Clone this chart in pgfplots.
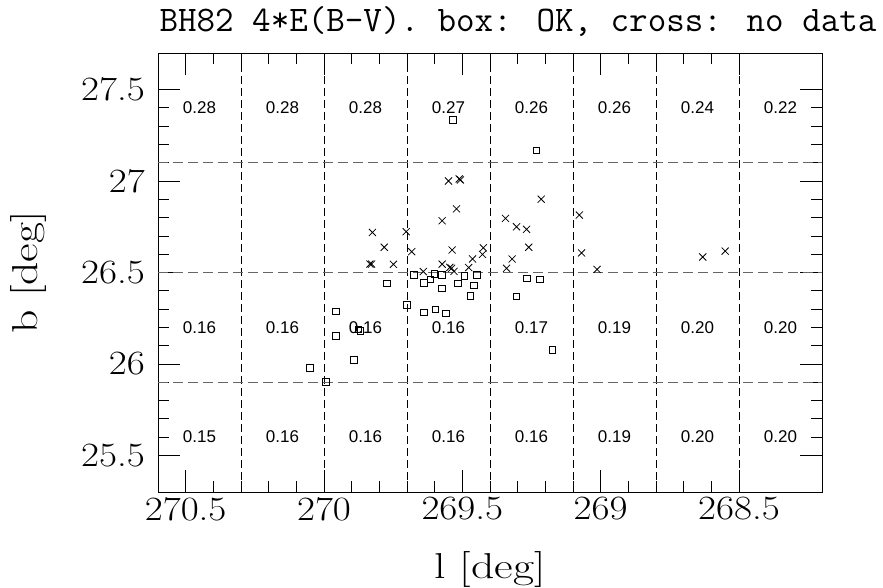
\documentclass[border=0pt]{standalone}
\usepackage{fontspec}
\usepackage{pgfplots}
\pgfplotsset{compat=1.18}
\newfontfamily\boxfont{Liberation Sans}
\newcommand{\hs}[1]{\scalebox{1.15}[1]{#1}}
\newcommand{\hl}[1]{\scalebox{1.27}[1]{#1}}

\begin{document}
\begin{tikzpicture}
\begin{axis}[
  scale only axis, width=664pt, height=439pt,
  xmin=268.2, xmax=270.6, ymin=25.3, ymax=27.7,
  x dir=reverse,
  xtick={268.5,269,269.5,270,270.5},
  xticklabels={\hs{268.5},\hs{269},\hs{269.5},\hs{270},\hs{270.5}},
  ytick={25.5,26,26.5,27,27.5},
  yticklabels={\hs{25.5},\hs{26},\hs{26.5},\hs{27},\hs{27.5}},
  minor x tick num=4, minor y tick num=4,
  tick align=inside,
  xtick pos=both, ytick pos=both,
  major tick length=22pt, minor tick length=11pt,
  every tick/.style={black, line width=0.8pt},
  axis line style={black, line width=0.9pt},
  tick label style={font=\fontsize{34}{40}\selectfont, inner sep=0pt},
  xticklabel style={anchor=north, yshift=-5pt},
  yticklabel style={anchor=east, xshift=-13pt},
  clip=false,
]
% grid of boxes
\addplot[black, line width=0.7pt, dash pattern=on 8pt off 4pt] coordinates {(270.3,25.3) (270.3,27.7)};
\addplot[black, line width=0.7pt, dash pattern=on 8pt off 4pt] coordinates {(270.0,25.3) (270.0,27.7)};
\addplot[black, line width=0.7pt, dash pattern=on 8pt off 4pt] coordinates {(269.7,25.3) (269.7,27.7)};
\addplot[black, line width=0.7pt, dash pattern=on 8pt off 4pt] coordinates {(269.4,25.3) (269.4,27.7)};
\addplot[black, line width=0.7pt, dash pattern=on 8pt off 4pt] coordinates {(269.1,25.3) (269.1,27.7)};
\addplot[black, line width=0.7pt, dash pattern=on 8pt off 4pt] coordinates {(268.8,25.3) (268.8,27.7)};
\addplot[black, line width=0.7pt, dash pattern=on 8pt off 4pt] coordinates {(268.5,25.3) (268.5,27.7)};
\addplot[gray!80!black, line width=1.2pt, dash pattern=on 10pt off 5pt] coordinates {(270.6,27.1) (268.2,27.1)};
\addplot[gray!80!black, line width=1.2pt, dash pattern=on 10pt off 5pt] coordinates {(270.6,26.5) (268.2,26.5)};
\addplot[gray!80!black, line width=1.2pt, dash pattern=on 10pt off 5pt] coordinates {(270.6,25.9) (268.2,25.9)};

% box values
\addplot[only marks, mark=none, nodes near coords, point meta=explicit symbolic,
  every node near coord/.append style={anchor=center, inner sep=0pt,
  font=\boxfont\fontsize{17}{19}\selectfont}]
  table[x=x, y=y, meta=lab] {
x y lab
270.45 27.4 0.28
270.15 27.4 0.28
269.85 27.4 0.28
269.55 27.4 0.27
269.25 27.4 0.26
268.95 27.4 0.26
268.65 27.4 0.24
268.35 27.4 0.22
270.45 26.2 0.16
270.15 26.2 0.16
269.85 26.2 0.16
269.55 26.2 0.16
269.25 26.2 0.17
268.95 26.2 0.19
268.65 26.2 0.20
268.35 26.2 0.20
270.45 25.6 0.15
270.15 25.6 0.16
269.85 25.6 0.16
269.55 25.6 0.16
269.25 25.6 0.16
268.95 25.6 0.19
268.65 25.6 0.20
268.35 25.6 0.20
};

% crosses: no data
\addplot[only marks, mark=x, mark size=5pt, mark options={line width=0.8pt, black}] table {
269.825 26.719
269.782 26.638
269.834 26.546
269.828 26.546
269.749 26.545
269.703 26.723
269.683 26.614
269.573 26.783
269.550 27.000
269.511 27.011
269.507 27.006
269.521 26.848
269.537 26.623
269.573 26.546
269.545 26.528
269.539 26.523
269.530 26.506
269.641 26.505
269.477 26.527
269.463 26.574
269.427 26.599
269.424 26.635
269.344 26.796
269.304 26.750
269.268 26.736
269.215 26.901
269.260 26.638
269.320 26.574
269.340 26.523
269.077 26.814
269.069 26.607
269.013 26.517
268.631 26.585
268.550 26.617
};

% boxes: OK
\addplot[only marks, mark=square, mark size=3.3pt, mark options={line width=0.8pt, black}] table {
269.534 27.334
269.232 27.167
269.773 26.440
269.675 26.486
269.638 26.444
269.616 26.463
269.601 26.492
269.573 26.486
269.574 26.412
269.492 26.483
269.447 26.488
269.516 26.440
269.459 26.430
269.471 26.373
269.700 26.322
269.638 26.282
269.598 26.298
269.559 26.277
269.957 26.287
269.957 26.154
269.876 26.190
269.868 26.180
269.892 26.021
270.050 25.979
269.994 25.903
269.266 26.468
269.219 26.463
269.305 26.370
269.175 26.076
};

\node[anchor=base east, font=\ttfamily\fontsize{36}{40}\selectfont]
  at ([xshift=58pt, yshift=21pt]rel axis cs:1,1) {BH82 4*E(B\textendash V). box: OK, cross: no data};
\node[anchor=base, font=\fontsize{36}{40}\selectfont]
  at ([yshift=-87pt]rel axis cs:0.5,0) {\hl{l [deg]}};
\node[anchor=base, rotate=90, font=\fontsize{36}{40}\selectfont]
  at ([xshift=-120pt]rel axis cs:0,0.5) {\hl{b [deg]}};
\end{axis}
\pgfresetboundingbox
\path[use as bounding box] (-158pt,-96pt) rectangle (725pt,492pt);
\end{tikzpicture}
\end{document}
